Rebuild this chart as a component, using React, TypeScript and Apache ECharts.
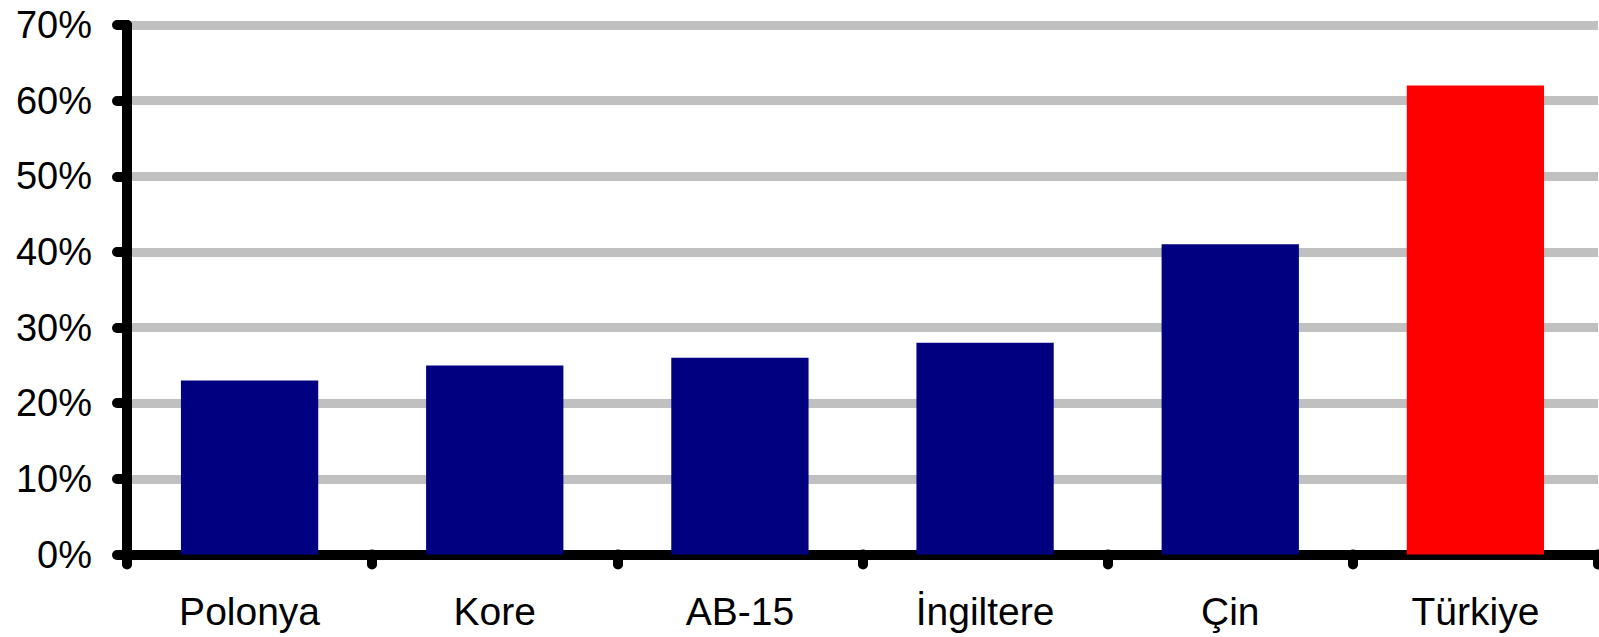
import React, { useEffect, useRef } from "react";
import * as echarts from "echarts";

const categories = ["Polonya", "Kore", "AB-15", "İngiltere", "Çin", "Türkiye"];
const values = [23, 25, 26, 28, 41, 62];
const barColors = ["#000080", "#000080", "#000080", "#000080", "#000080", "#ff0000"];
const yTicks = { min: 0, max: 70, interval: 10 };

export default function App() {
  const ref = useRef<HTMLDivElement>(null);

  useEffect(() => {
    if (!ref.current) return;
    const chart = echarts.init(ref.current, null, { renderer: "svg" });
    const font = "'Liberation Sans', Arial, sans-serif";
    chart.setOption({
      animation: false,
      backgroundColor: "#ffffff",
      grid: { left: 127, right: 1, top: 25, bottom: 82.5 },
      xAxis: {
        type: "category",
        data: categories,
        boundaryGap: true,
        axisLine: { lineStyle: { color: "#000", width: 10 } },
        axisTick: {
          show: true,
          alignWithLabel: false,
          length: 10,
          lineStyle: { color: "#000", width: 10, cap: "round" },
        },
        axisLabel: {
          color: "#000",
          fontFamily: font,
          fontSize: 39,
          margin: 37,
          interval: 0,
        },
        splitLine: { show: false },
      },
      yAxis: {
        type: "value",
        min: yTicks.min,
        max: yTicks.max,
        interval: yTicks.interval,
        axisLine: { show: true, lineStyle: { color: "#000", width: 10 } },
        axisTick: {
          show: true,
          length: 10,
          lineStyle: { color: "#000", width: 10, cap: "round" },
        },
        axisLabel: {
          color: "#000",
          fontFamily: font,
          fontSize: 38,
          margin: 35,
          formatter: "{value}%",
        },
        splitLine: { show: true, lineStyle: { color: "#c0c0c0", width: 9 } },
      },
      series: [
        {
          type: "bar",
          data: values.map((v, i) => ({ value: v, itemStyle: { color: barColors[i] } })),
          barCategoryGap: "44%",
        },
      ],
    });
    return () => chart.dispose();
  }, []);

  return (
    <div
      ref={ref}
      style={{ position: "absolute", left: 0, top: 0, width: 1599, height: 637 }}
    />
  );
}
